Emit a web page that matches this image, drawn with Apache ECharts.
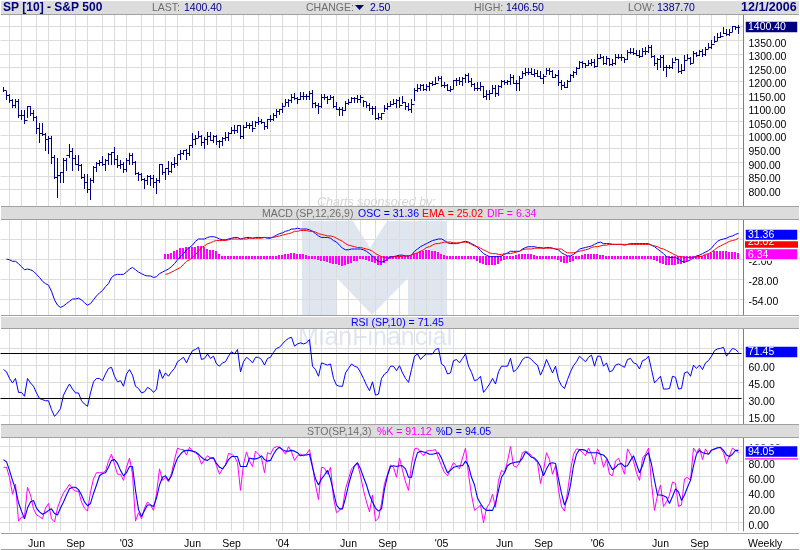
<!DOCTYPE html>
<html lang="en">
<head>
    <meta charset="UTF-8">
    <title>SP [10] - S&amp;P 500</title>
    <style>html,body{margin:0;padding:0;background:#fff}</style>
</head>
<body>
<div id="main" style="width:800px;height:550px;"></div>
<script src="https://cdn.jsdelivr.net/npm/echarts@6/dist/echarts.min.js"></script>
<script type="text/javascript">
    // weekly bars, first one is the week of 3/22/2002, last one 12/1/2006
    var highs = [
        1176,1164,1150,1133,1133,1133,1092,1092,1108,1108,
        1092,1071,1043,1043,1008,996,996,926,914,865,
        914,914,967,951,926,926,895,856,856,840,
        887,901,908,922,910,935,938,957,926,908,
        901,917,935,935,905,865,862,842,852,852,
        852,840,895,895,879,904,901,920,926,945,
        945,948,965,1008,1000,1016,1000,994,1012,1012,
        1000,1000,981,994,1012,1012,1031,1037,1037,1037,
        1037,1049,1045,1053,1053,1065,1061,1049,1061,1074,
        1082,1095,1098,1117,1133,1135,1150,1154,1141,1160,
        1160,1150,1163,1166,1123,1117,1150,1150,1144,1147,
        1145,1123,1102,1104,1127,1132,1141,1141,1147,1147,
        1129,1123,1117,1107,1107,1080,1082,1111,1117,1127,
        1132,1135,1141,1144,1123,1117,1132,1172,1188,1190,
        1188,1190,1197,1200,1213,1218,1218,1197,1188,1181,
        1205,1209,1213,1215,1227,1231,1209,1193,1197,1197,
        1181,1166,1168,1184,1184,1184,1203,1205,1205,1225,
        1221,1205,1218,1237,1246,1248,1248,1243,1242,1237,
        1225,1246,1246,1240,1225,1240,1203,1197,1205,1225,
        1237,1252,1274,1273,1267,1277,1279,1279,1298,1301,
        1291,1291,1283,1279,1298,1301,1301,1286,1314,1323,
        1320,1314,1314,1323,1326,1332,1332,1295,1283,1295,
        1295,1258,1258,1286,1289,1279,1264,1295,1299,1289,
        1311,1307,1314,1316,1326,1341,1350,1365,1375,1381,
        1400,1393,1390,1404,1404,1406.5
    ];
    var lows = [
        1164,1132,1123,1102,1102,1068,1061,1045,1068,1074,
        1055,1008,975,1000,945,935,898,840,770,828,
        828,871,920,871,895,871,840,803,791,764,
        828,868,889,889,871,893,895,895,883,877,
        865,867,895,895,858,834,834,803,821,815,
        809,787,828,858,837,858,865,883,889,910,
        930,910,926,957,969,994,963,954,969,981,
        975,969,957,963,981,981,1006,1006,1012,988,
        988,1031,1028,1016,1033,1040,1043,1024,1028,1053,
        1055,1068,1077,1086,1111,1107,1123,1132,1120,1133,
        1135,1135,1135,1102,1102,1082,1102,1135,1117,1133,
        1104,1095,1074,1074,1092,1114,1123,1123,1123,1123,
        1107,1102,1092,1077,1061,1061,1061,1090,1098,1107,
        1114,1102,1102,1117,1098,1092,1086,1129,1163,1168,
        1166,1168,1168,1184,1190,1205,1181,1176,1166,1163,
        1172,1184,1190,1184,1197,1197,1181,1166,1168,1168,
        1139,1135,1135,1154,1145,1147,1176,1188,1190,1190,
        1193,1166,1166,1215,1221,1227,1225,1218,1218,1209,
        1193,1225,1225,1213,1213,1184,1171,1178,1176,1200,
        1213,1225,1246,1252,1252,1258,1258,1252,1254,1286,
        1262,1262,1258,1258,1264,1283,1277,1268,1279,1304,
        1301,1295,1289,1291,1301,1307,1289,1258,1243,1252,
        1240,1218,1246,1246,1277,1234,1230,1240,1279,1264,
        1270,1291,1295,1291,1295,1323,1323,1344,1350,1363,
        1375,1369,1369,1385,1393,1378
    ];
    var closes = [
        1168,1147,1131,1111,1125,1076,1073,1054,1106,1083,
        1067,1027,1007,1003,985,989,921,847,852,864,
        908,928,940,916,893,889,846,827,800,835,
        884,897,900,894,909,930,936,912,889,895,
        875,909,927,901,861,855,837,834,848,841,
        828,833,895,863,878,868,893,898,930,933,
        944,933,963,987,988,995,976,985,998,981,
        998,980,977,990,993,1008,1018,1018,1036,997,
        1029,1039,1039,1028,1050,1053,1050,1035,1058,1061,
        1074,1088,1095,1108,1122,1131,1141,1136,1135,1146,
        1144,1145,1156,1120,1110,1108,1141,1139,1134,1140,
        1107,1098,1096,1093,1120,1123,1136,1136,1135,1140,
        1126,1112,1101,1101,1064,1065,1080,1099,1107,1113,
        1118,1128,1110,1122,1108,1095,1114,1166,1172,1184,
        1170,1182,1191,1188,1194,1212,1186,1184,1168,1171,
        1203,1205,1201,1211,1222,1200,1190,1172,1172,1181,
        1143,1152,1157,1172,1154,1180,1198,1196,1201,1216,
        1194,1194,1212,1228,1234,1234,1226,1230,1219,1212,
        1218,1241,1237,1215,1222,1195,1186,1179,1198,1220,
        1234,1248,1268,1265,1259,1267,1268,1254,1285,1287,
        1265,1283,1264,1266,1287,1289,1287,1281,1307,1308,
        1303,1297,1292,1311,1310,1325,1291,1267,1280,1288,
        1252,1251,1250,1270,1280,1236,1240,1278,1283,1266,
        1302,1295,1311,1299,1319,1325,1336,1349,1363,1366,
        1377,1372,1380,1401,1400,1400.4
    ];

    // MACD, starts on week 1; the EMA and the histogram start on week 54
    var oscStart = 1;
    var oscValues = [
        -2,-3,-5,-5,-8,-12,-16,-15,-16,-18,
        -22,-26,-31,-34,-36,-44,-55,-62,-65,-63,
        -60,-57,-54,-54,-53,-55,-59,-62,-60,-55,
        -50,-46,-43,-38,-34,-26,-23,-22,-22,-22,
        -19,-15,-13,-16,-19,-21,-23,-24,-24,-26,
        -25,-21,-19,-17,-15,-12,-8,-3,1,5,
        10,13,16,21,24,24,24,26,27,27,
        26,24,23,23,24,25,26,26,24,25,
        26,26,25,26,26,26,26,25,25,
        27,29,31,32,34,35,37,37,38,37,
        37,37,36,34,31,28,26,26,26,25,
        22,20,16,12,10,10,11,11,11,11,
        10,8,5,2,-2,-5,-6,-5,-2,1,
        1,2,3,3,2,2,3,8,11,14,
        16,18,20,22,23,24,24,22,19,18,
        18,18,19,20,21,20,18,16,13,9,
        5,3,1,1,1,1,2,4,6,8,
        8,8,8,11,13,14,14,14,13,13,
        12,13,13,12,11,10,6,4,2,2,
        4,7,11,12,13,14,15,17,19,20,
        18,18,18,17,17,17,17,16,17,18,
        18,18,18,18,18,18,16,14,11,8,
        5,1,0,0,0,-2,-5,-6,-5,-3,
        0,2,3,5,7,9,12,17,21,23,
        24,25,27,28,30,31.36
    ];
    var emaStart = 54;
    var emaValues = [
        -22,-21,-19,-17,-15,-13,-9,-5,-3,0,
        4,8,13,15,18,19,21,22,22,22,
        22,23,24,24,24,24,24,24,25,25,
        25,25,25,26,26,26,
        26,27,28,29,30,31,32,34,34,35,
        35,35,34,34,33,31,30,29,28,28,
        27,25,23,21,18,16,15,14,13,13,
        12,11,10,8,5,3,1,0,0,0,
        1,1,1,2,2,2,3,5,6,8,
        10,13,14,16,18,18,19,20,20,20,
        19,19,19,20,20,19,17,15,14,12,
        10,8,6,5,5,4,4,5,5,5,
        6,7,8,10,11,11,11,12,12,12,
        12,12,12,12,11,11,11,8,6,6,
        6,7,8,9,10,11,13,14,14,15,
        16,16,17,17,17,17,17,17,17,17,
        17,17,17,17,17,17,16,15,14,12,
        11,9,7,5,3,1,1,0,0,0,
        0,1,1,2,4,5,7,10,13,15,
        17,19,21,22,23,25.02
    ];
    var difValues = [
        5,5,6,8,10,12,12,13,13,13,
        14,15,15,13,11,10,10,8,5,2,
        2,1,1,2,2,2,1,1,1,1,
        1,1,1,1,1,1,
        1,2,3,3,4,5,6,6,5,4,
        4,3,2,0,-2,-3,-4,-5,-6,-7,
        -8,-9,-10,-11,-10,-9,-7,-5,-4,-2,
        -2,-3,-5,-6,-7,-10,-10,-7,-4,-2,
        0,1,1,2,1,1,2,4,6,8,
        9,10,10,9,8,7,5,3,1,0,
        1,1,1,1,1,0,-1,-2,-4,-7,
        -8,-10,-10,-10,-10,-8,-5,-3,-1,1,
        2,3,4,4,5,5,4,3,2,2,
        1,1,1,1,0,-3,-6,-7,-7,-6,
        -4,-1,2,3,4,4,4,4,4,3,
        3,2,1,1,1,1,1,0,1,1,
        1,1,1,1,1,1,-1,-3,-4,-7,
        -9,-10,-10,-10,-10,-9,-9,-7,-5,-2,
        -1,0,1,1,3,4,6,8,9,9,
        9,8,7,7,7,6.34
    ];

    var rsiValues = [
        56,54,48,44,48,35.5,35.5,32,48,44,
        41,35,30,29,28,28,20,14,17,21,
        33,38.5,43,38.5,35,35,28,25,23,35,
        45,48,48,46,52,57,58,50,45,46,
        41,52,56,51,41,39,35,36,40,38.5,
        35.5,38.5,56,48,53,50,54,57,63,65,
        67,62,68,73,74,76,65,66,70,66,
        68,61,59,62,63,68,72,70,74,54,
        63,67,65,62,67,67,65,60,66,67,
        71.5,75,76,79,82,84,85,77,79,80,
        79,80,83,59,56,50,62,61,60,61,
        48,42,41,41,53,57,61,59,58,53.5,
        48,42,37,45,33,34,48,52,54,59,
        59,55,59.5,53,48,44.5,56,68,70,65,
        68,70,70,70,74,75,61,59,52,53,
        64,65,62,66,70,59,53.5,46,47,50,
        35.5,39,43,48,43,54,59,59,59,66,
        54,56,60,65,67,67,65,62,60,51,
        57,65,59,53,59,47,41.5,39,47,54,
        59.5,63,68,65.5,63,67,69,59,68,68,
        59,62,54,55,60,61,59.5,58,65,66,
        62,61,56.5,64,65,68,56,44,47,50,
        38.5,38.5,39,50,49,38.5,39,53,54,50,
        60,57,60,56,62,64,68,73,74.5,75,
        76,68,71.5,75,74,71.45
    ];
    var rsiLevels = [71, 30];

    var stoK = [
        72,72,59,37,50,2,7,8,46,36,
        18,10,8,5,19,25,5,1,19,30,
        39,44,50,44,41,41,27,19,15,40,
        57,65,65,65,67,80,89,76,63,63,
        55,72,84,63,2,13,5,19,27,23,
        16,38,70,55,59,53,64,82,97,95,
        95,88,98,93,91,87,76,82,87,84,
        85,74,63,70,75,90,89,86,78,42,
        76,92,80,73,93,89,84,65,91,89,
        97,99,98,94,89,99,92,81,87,89,
        87,89,95,74,49,30,72,71,63,72,
        32,13,16,19,44,57,70,74,77,61,
        42,27,14,36,2,6,25,51,63,75,
        72,59,84,68,53,42,76,96,97,91,
        87,93,94,94,95,84,74,65,61,70,
        78,74,70,84,97,63,36,16,19,23,
        0,19,25,37,20,55,68,65,80,99,
        74,72,78,91,93,91,87,82,78,51,
        68,91,82,63,74,42,21,15,40,68,
        89,96,95,91,87,97,89,76,96,89,
        72,82,63,61,80,84,74,63,96,89,
        80,65,55,84,89,97,51,16,36,49,
        21,27,36,53,51,21,23,57,59,55,
        97,91,97,82,96,89,95,95,98,97,
        91,77,87,97,94,91.12
    ];
    var stoD = [
        82,79,68,55,44,26,15,5,19,27,
        29,19,14,11,13,16,18,12,10,19,
        27,36,44,46,46,43,36,27,22,25,
        38,49,61,64,65,72,81,82,77,68,
        61,65,73,73,42,17,8,16,23,23,
        21,32,49,59,61,55,61,74,84,89,
        93,94,94,93,92,89,85,82,81,84,
        84,77,72,70,75,82,86,86,86,73,
        73,73,84,83,83,84,87,82,80,81,
        89,95,98,95,93,93,94,93,91,87,
        88,88,89,72,57,49,57,62,68,57,
        40,23,18,18,32,49,63,74,78,70,
        59,49,36,27,19,15,18,44,61,73,
        74,73,74,74,70,59,59,78,91,93,
        92,91,89,89,90,91,84,74,65,68,
        72,73,74,74,80,74,59,49,32,25,
        19,16,16,16,25,42,59,65,74,77,
        78,79,79,84,92,89,85,84,80,73,
        61,70,77,78,77,57,38,23,32,49,
        74,89,95,95,94,91,91,91,91,89,
        88,84,76,69,72,76,77,73,74,81,
        87,76,65,74,87,91,76,55,36,36,
        35,33,25,34,44,40,29,36,46,55,
        74,89,94,91,90,89,94,96,97,98,
        94,88,86,89,94,94.05
    ];

    // tick labels
    var priceTicks = [800,850,900,950,1000,1050,1100,1150,1200,1250,1300,1350,1400];
    var macdTicks = [-54,-28,-2,24];
    var rsiTicks = [15,30,45,60,75];
    var stoTicks = [0,20,40,60,80,100];
    var gridWeeks = [2,6,11,15,19,24,28,33,37,41,46,50,54,58,63,67,71,76,80,85,89,93,98,102,106,111,115,119,124,128,132,137,141,146,150,154,158,162,167,171,175,180,185,189,193,198,202,206,211,215,219,224,228,232,236,241,245];
    var labelWeeks = [11,24,41,63,76,93,115,128,146,167,180,198,219,232];
    var labelTexts = ["Jun","Sep","'03","Jun","Sep","'04","Jun","Sep","'05","Jun","Sep","'06","Jun","Sep"];

    var firstWeek = Date.UTC(2002, 2, 22);
    var weekDates = closes.map(function (c, i) {
        return new Date(firstWeek + i * 7 * 86400000).toISOString().slice(0, 10);
    });
    // one empty slot in front and two behind, so the bars sit off the panel edges
    var categories = [""].concat(weekDates, ["", ""]);
    var gridSet = {}, labelMap = {};
    gridWeeks.forEach(function (w) { gridSet[w + 1] = true; });
    labelWeeks.forEach(function (w, i) { labelMap[weekDates[w]] = labelTexts[i]; });

    var FONT = '"Liberation Sans", Arial, sans-serif';
    var NAVY = "#000080", BLUE = "#0000ff", RED = "#ff0000", PINK = "#ff00ff";
    var GRIDC = "#dcdcdc", BAND = "#dcdcdc", RULE = "#a0a0a0", LBL = "#6e6e6e";

    function pts(values, start) {
        return values.map(function (v, i) { return [i + start + 1, v]; });
    }
    function lineSeries(name, values, start, color, idx, width) {
        return {
            name: name, type: "line", xAxisIndex: idx, yAxisIndex: idx,
            data: pts(values, start), showSymbol: false, symbol: "none", silent: true,
            lineStyle: {color: color, width: width || 1}, animation: false
        };
    }
    function renderBar(params, api) {
        var i = api.value(0);
        var x = Math.floor(api.coord([i, 0])[0]) + 0.5;
        var yy = function (v) { return Math.round(api.coord([i, v])[1]) + 0.5; };
        var st = {stroke: NAVY, lineWidth: 1};
        var kids = [
            {type: "line", shape: {x1: x, y1: yy(api.value(1)) - 0.5, x2: x, y2: yy(api.value(2)) + 0.5}, style: st},
            {type: "line", shape: {x1: x, y1: yy(api.value(3)), x2: x + 1.5, y2: yy(api.value(3))}, style: st}
        ];
        if (params.dataIndex > 0) {
            var o = yy(closes[params.dataIndex - 1]);
            kids.push({type: "line", shape: {x1: x - 1.5, y1: o, x2: x, y2: o}, style: st});
        }
        return {type: "group", children: kids};
    }
    function renderDif(params, api) {
        // every bar keeps a thin band around the zero line, as on the original
        var i = api.value(0), v = api.value(1);
        var x = Math.floor(api.coord([i, 0])[0]);
        var top = Math.round(api.coord([i, Math.max(v, 2)])[1]);
        var bot = Math.round(api.coord([i, Math.min(v, -2)])[1]);
        return {type: "rect", shape: {x: x - 1, y: top, width: 2, height: bot - top}, style: {fill: PINK}};
    }

    function makeGrid(top, height) {
        return {left: 0.5, right: 55.5, top: top, height: height, containLabel: false};
    }
    function makeX(idx, showLabels) {
        return {
            type: "category", gridIndex: idx, data: categories, boundaryGap: false,
            axisLine: {show: false}, axisTick: {show: false},
            axisLabel: {
                show: showLabels, color: "#000", fontFamily: FONT, fontSize: 10.5, margin: 8,
                hideOverlap: false,
                interval: function (index, value) { return !!labelMap[value]; },
                formatter: function (value) { return labelMap[value] || ""; }
            },
            splitLine: {
                show: true, lineStyle: {color: GRIDC, width: 1},
                interval: function (index) { return !!gridSet[index]; }
            }
        };
    }
    function makeY(idx, min, max, ticks) {
        return {
            type: "value", gridIndex: idx, position: "right", offset: -1, min: min, max: max, scale: true,
            axisLine: {show: true, onZero: false, lineStyle: {color: "#808080", width: 1}},
            axisTick: {show: false, customValues: ticks},
            axisLabel: {
                customValues: ticks, color: "#000", fontFamily: FONT, fontSize: 10.5, margin: 5,
                align: "left", verticalAlign: "top", lineHeight: 7,
                showMinLabel: true, showMaxLabel: true, hideOverlap: false,
                formatter: function (v) { return v.toFixed(2); }
            },
            splitLine: {show: true, lineStyle: {color: GRIDC, width: 1}}
        };
    }

    // page furniture: header strips, watermark, value boxes
    function txt(s, x, y, color, font, z) {
        return {
            type: "text", z: z || 20, silent: true,
            style: {text: s, x: x, y: y, fill: color, font: font || ("10.5px " + FONT), textVerticalAlign: "middle"}
        };
    }
    function box(x, y, w, h, fill, z, border) {
        return {
            type: "rect", z: z || 10, silent: true, shape: {x: x, y: y, width: w, height: h},
            style: {fill: fill, stroke: border || null, lineWidth: border ? 1.5 : 0}
        };
    }
    function band(y, h) {
        return box(1, y, 798, h, BAND, 10);
    }
    function rule(y) {
        return box(1, y, 798, 1, RULE, 11);
    }
    var watermark = "#e0e6f0";
    var furniture = [
        {
            type: "polygon", z: -5, silent: true,
            shape: {points: [[302,221],[353,221],[370,248],[387,221],[447,221],[447,315],[408,315],[408,278],[372,315],[337,278],[337,315],[302,315]]},
            style: {fill: watermark}
        },
        txt("MianFinancial", 298, 338, watermark, "25px " + FONT, -4),
        txt("Charts sponsored by:", 317, 203, "#d4d4d4", "italic 12.5px " + FONT, -4),

        band(1, 13), rule(14),
        rule(206), band(207, 12), rule(219),
        rule(315), band(317, 11), rule(328),
        rule(424), band(425, 12), rule(437),
        rule(533), rule(549),

        txt("SP [10] - S&P 500", 3, 8, NAVY, "bold 12px " + FONT),
        txt("LAST:", 152, 8, LBL),
        txt("1400.40", 184, 8, NAVY),
        txt("CHANGE:", 306, 8, LBL),
        {type: "polygon", z: 20, silent: true, shape: {points: [[355,5],[364,5],[359.5,10]]}, style: {fill: NAVY}},
        txt("2.50", 370, 8, NAVY),
        txt("HIGH:", 474, 8, LBL),
        txt("1406.50", 506, 8, NAVY),
        txt("LOW:", 628, 8, LBL),
        txt("1387.70", 657, 8, NAVY),
        txt("12/1/2006", 741, 8, NAVY, "bold 12.5px " + FONT),

        txt("MACD (SP,12,26,9)", 262, 214, LBL),
        txt("OSC = 31.36", 358, 214, BLUE),
        txt("EMA = 25.02", 422, 214, RED),
        txt("DIF = 6.34", 487, 214, PINK),
        txt("RSI (SP,10) = 71.45", 351, 323, BLUE),
        txt("STO(SP,14,3)", 307, 432, LBL),
        txt("%K = 91.12", 377, 432, PINK),
        txt("%D = 94.05", 436, 432, BLUE),
        txt("Weekly", 748, 544, "#000"),

        box(745, 21, 53, 12, NAVY, 30, "#fff"),
        txt("1400.40", 748, 27, "#fff", null, 31),

        box(745, 236, 53, 12, RED, 30),
        txt("25.02", 748, 242, "#fff", null, 31),
        box(745, 229, 53, 11.5, BLUE, 32, "#fff"),
        txt("31.36", 748, 235, "#fff", null, 33),
        box(745, 248.5, 53, 11.5, PINK, 32, "#fff"),
        txt("6.34", 748, 255, "#fff", null, 33),

        box(745, 346, 53, 12, BLUE, 30, "#fff"),
        txt("71.45", 748, 352, "#fff", null, 31),

        box(745, 448, 53, 11.5, PINK, 30),
        txt("91.12", 748, 454, "#fff", null, 31),
        box(745, 445.5, 53, 12, BLUE, 32, "#fff"),
        txt("94.05", 748, 452, "#fff", null, 33)
    ];

    var myChart = echarts.init(document.getElementById("main"), null, {renderer: "canvas"});
    var rsiLine = lineSeries("RSI", rsiValues, 0, BLUE, 2);
    rsiLine.markLine = {
        silent: true, symbol: "none", animation: false, label: {show: false},
        lineStyle: {color: "#000", width: 1.2, type: "solid"},
        data: rsiLevels.map(function (lv) {
            return [{xAxis: 0, yAxis: lv}, {xAxis: 247, yAxis: lv}];
        })
    };

    var option = {
        backgroundColor: "#fff",
        animation: false,
        tooltip: {show: false},
        graphic: furniture,
        grid: [makeGrid(15, 191), makeGrid(220, 95.7), makeGrid(329, 94.7), makeGrid(438, 95.5)],
        xAxis: [makeX(0, false), makeX(1, false), makeX(2, false), makeX(3, true)],
        yAxis: [
            makeY(0, 738.4, 1443.2, priceTicks),
            makeY(1, -75.7, 48.7, macdTicks),
            makeY(2, 7.4, 92.4, rsiTicks),
            makeY(3, -10.8, 110.1, stoTicks)
        ],
        series: [
            {
                name: "S&P 500", type: "custom", xAxisIndex: 0, yAxisIndex: 0, silent: true,
                renderItem: renderBar, clip: false, z: 3,
                encode: {x: 0, y: [1, 2, 3]},
                data: closes.map(function (c, i) { return [i + 1, highs[i], lows[i], c]; })
            },
            {
                name: "DIF", type: "custom", xAxisIndex: 1, yAxisIndex: 1, silent: true,
                renderItem: renderDif, z: 2, encode: {x: 0, y: 1},
                data: pts(difValues, emaStart)
            },
            lineSeries("OSC", oscValues, oscStart, BLUE, 1),
            lineSeries("EMA", emaValues, emaStart, RED, 1),
            rsiLine,
            lineSeries("%K", stoK, 0, PINK, 3),
            lineSeries("%D", stoD, 0, BLUE, 3, 1.1)
        ]
    };
    myChart.setOption(option);
</script>
</body>
</html>
